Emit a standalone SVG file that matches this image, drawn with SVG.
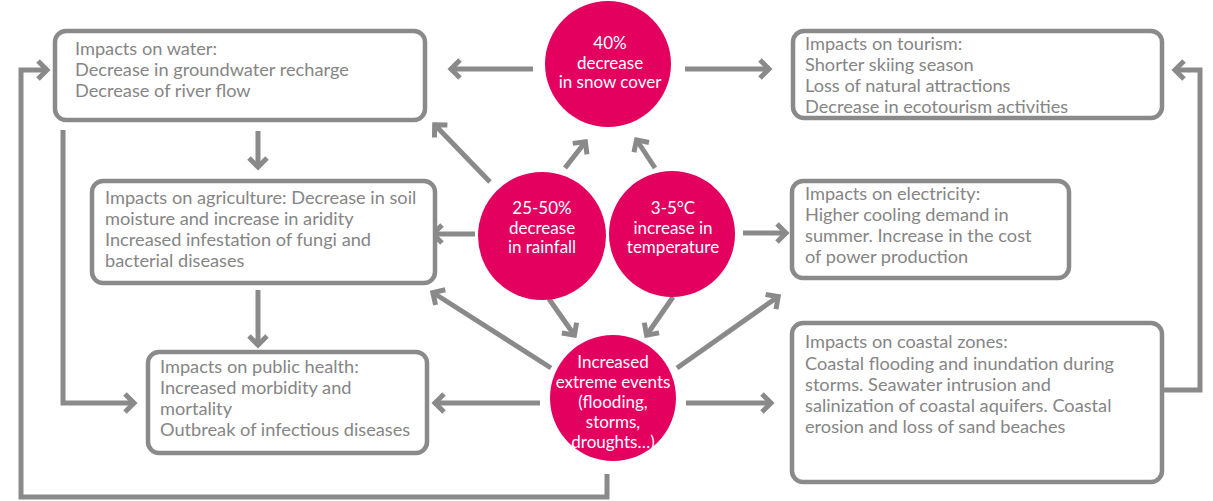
<svg xmlns="http://www.w3.org/2000/svg" width="1213" height="501" viewBox="0 0 1213 501">
<style>
.box{fill:#fff;stroke:#8a8a8a;stroke-width:4.5}
.bt{font-family:Lato,"Liberation Sans",sans-serif;font-size:18.2px;fill:#858585}
.circ{fill:#e4005f}
.ct{font-family:Lato,"Liberation Sans",sans-serif;font-size:17px;fill:#fff;text-anchor:middle}
.c{fill:none;stroke:#8a8a8a;stroke-width:5;marker-end:url(#ah)}
</style>
<defs>
<marker id="ah" markerUnits="userSpaceOnUse" viewBox="-16 -12 20 24" markerWidth="20" markerHeight="24" refX="0" refY="0" orient="auto">
<path d="M-10,-9 L-1,0 L-10,9" fill="none" stroke="#8a8a8a" stroke-width="5" stroke-linejoin="miter"/>
</marker>
</defs>
<rect width="1213" height="501" fill="#fff"/>
<g id="connectors">
<line class="c" x1="533" y1="69" x2="450" y2="69"/>
<line class="c" x1="685" y1="69" x2="770" y2="69"/>
<line class="c" x1="490" y1="182" x2="434" y2="124"/>
<line class="c" x1="565" y1="168" x2="586" y2="141"/>
<line class="c" x1="655" y1="168" x2="636" y2="139"/>
<line class="c" x1="475" y1="234" x2="432" y2="234"/>
<line class="c" x1="743" y1="233" x2="787" y2="233"/>
<line class="c" x1="673" y1="297" x2="646" y2="336"/>
<line class="c" x1="549" y1="299" x2="575" y2="336"/>
<line class="c" x1="551" y1="368" x2="432" y2="292"/>
<line class="c" x1="677" y1="368" x2="779" y2="296"/>
<line class="c" x1="540" y1="403" x2="434" y2="403"/>
<line class="c" x1="686" y1="403" x2="772" y2="403"/>
<line class="c" x1="258" y1="131" x2="258" y2="168"/>
<line class="c" x1="258" y1="290" x2="258" y2="346"/>
<polyline class="c" points="63,130 63,403 135,403"/>
<polyline class="c" points="607,474 607,497 21,497 21,70 48,70"/>
<polyline class="c" points="1163,390 1200,390 1200,70 1174,70"/>
</g>
<g id="water">
<rect class="box" x="55" y="31" width="370" height="89" rx="11"/>
<text class="bt" x="75" y="55">Impacts on water:</text>
<text class="bt" x="75" y="76">Decrease in groundwater recharge</text>
<text class="bt" x="75" y="97">Decrease of river flow</text>
</g>
<g id="tourism">
<rect class="box" x="793" y="31" width="369" height="87" rx="11"/>
<text class="bt" x="805" y="50">Impacts on tourism:</text>
<text class="bt" x="805" y="71">Shorter skiing season</text>
<text class="bt" x="805" y="92">Loss of natural attractions</text>
<text class="bt" x="805" y="113">Decrease in ecotourism activities</text>
</g>
<g id="agriculture">
<rect class="box" x="92" y="181" width="343" height="102" rx="11"/>
<text class="bt" x="105" y="204">Impacts on agriculture: Decrease in soil</text>
<text class="bt" x="105" y="225">moisture and increase in aridity</text>
<text class="bt" x="105" y="246">Increased infestation of fungi and</text>
<text class="bt" x="105" y="267">bacterial diseases</text>
</g>
<g id="electricity">
<rect class="box" x="792" y="181" width="277" height="97" rx="11"/>
<text class="bt" x="805" y="200">Impacts on electricity:</text>
<text class="bt" x="805" y="221">Higher cooling demand in</text>
<text class="bt" x="805" y="242">summer. Increase in the cost</text>
<text class="bt" x="805" y="263">of power production</text>
</g>
<g id="health">
<rect class="box" x="148" y="352" width="279" height="101" rx="11"/>
<text class="bt" x="160" y="373">Impacts on public health:</text>
<text class="bt" x="160" y="394">Increased morbidity and</text>
<text class="bt" x="160" y="415">mortality</text>
<text class="bt" x="160" y="436">Outbreak of infectious diseases</text>
</g>
<g id="coastal">
<rect class="box" x="792" y="323" width="370" height="159" rx="11"/>
<text class="bt" x="805" y="348">Impacts on coastal zones:</text>
<text class="bt" x="805" y="370">Coastal flooding and inundation during</text>
<text class="bt" x="805" y="391">storms. Seawater intrusion and</text>
<text class="bt" x="805" y="412">salinization of coastal aquifers. Coastal</text>
<text class="bt" x="805" y="433">erosion and loss of sand beaches</text>
</g>
<g id="snow">
<circle class="circ" cx="608" cy="64" r="63"/>
<text class="ct" x="610" y="49">40%</text>
<text class="ct" x="610" y="69">decrease</text>
<text class="ct" x="610" y="88">in snow cover</text>
</g>
<g id="rainfall">
<circle class="circ" cx="542" cy="236" r="64"/>
<text class="ct" x="542" y="214">25-50%</text>
<text class="ct" x="542" y="234">decrease</text>
<text class="ct" x="542" y="253">in rainfall</text>
</g>
<g id="temperature">
<circle class="circ" cx="672" cy="234" r="63"/>
<text class="ct" x="673" y="214">3-5°C</text>
<text class="ct" x="673" y="234">increase in</text>
<text class="ct" x="673" y="253">temperature</text>
</g>
<g id="extreme">
<circle class="circ" cx="613" cy="398" r="63"/>
<text class="ct" x="613" y="368">Increased</text>
<text class="ct" x="613" y="388">extreme events</text>
<text class="ct" x="613" y="408">(flooding,</text>
<text class="ct" x="613" y="428">storms,</text>
<text class="ct" x="613" y="448">droughts…)</text>
</g>
</svg>
